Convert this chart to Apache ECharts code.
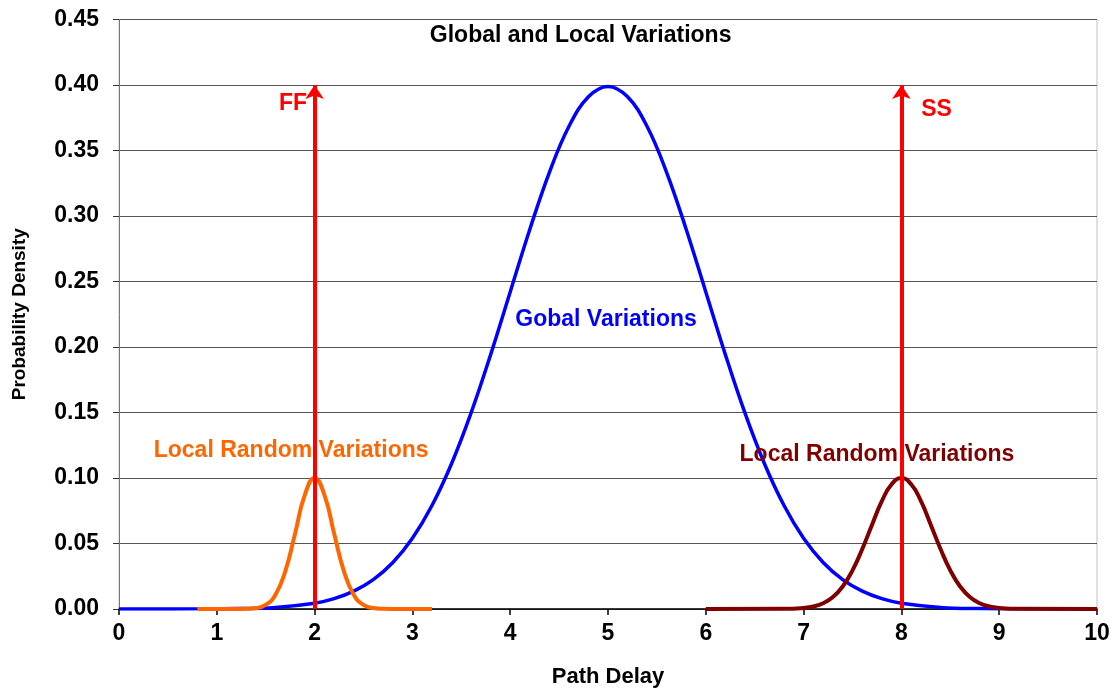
<!DOCTYPE html>
<html>
<head>
<meta charset="utf-8">
<script src="https://cdn.jsdelivr.net/npm/echarts@6/dist/echarts.min.js"></script>
<style>
  html, body { margin: 0; padding: 0; background: #fff; }
  #chart { width: 1120px; height: 692px; }
</style>
</head>
<body>
<div id="chart"></div>
<script>
// values
const blueX = [0, 0.8, 1.2, 1.6, 2, 2.2, 2.4, 2.6, 2.8, 3, 3.2, 3.4, 3.6, 3.8, 4, 4.2, 4.4, 4.6, 4.8, 5,
  5.2, 5.4, 5.6, 5.8, 6, 6.2, 6.4, 6.6, 6.8, 7, 7.2, 7.4, 7.6, 7.8, 8, 8.4, 8.8, 9.2, 10]
const blueY = [0, 0.0001, 0.0003, 0.0012, 0.0044, 0.0079, 0.0136, 0.0224, 0.0355, 0.054, 0.079, 0.1109,
  0.1497, 0.1942, 0.242, 0.2897, 0.3332, 0.3683, 0.391, 0.3989,
  0.391, 0.3683, 0.3332, 0.2897, 0.242, 0.1942, 0.1497, 0.1109, 0.079, 0.054, 0.0355, 0.0224,
  0.0136, 0.0079, 0.0044, 0.0012, 0.0003, 0.0001, 0]

const orangeX = [0.8, 1.2, 1.3, 1.4, 1.5, 1.6, 1.7, 1.8, 1.9, 2, 2.1, 2.2, 2.3, 2.4, 2.5, 2.6, 2.7, 2.8, 3.2]
const orangeY = [0, 0, 0.0001, 0.0007, 0.0031, 0.0109, 0.0288, 0.0575, 0.0871, 0.1, 0.0871, 0.0575,
  0.0288, 0.0109, 0.0031, 0.0007, 0.0001, 0, 0]

const brownX = [6, 6.8, 7, 7.1, 7.2, 7.3, 7.4, 7.5, 7.6, 7.7, 7.8, 7.9, 8, 8.1, 8.2, 8.3, 8.4, 8.5,
  8.6, 8.7, 8.8, 8.9, 9, 9.2, 10]
const brownY = [0, 0.0001, 0.0008, 0.0019, 0.0044, 0.0091, 0.0172, 0.0295, 0.0458, 0.0644, 0.0823,
  0.0952, 0.1, 0.0952, 0.0823, 0.0644, 0.0458, 0.0295, 0.0172, 0.0091, 0.0044, 0.0019, 0.0008, 0.0001, 0]

// FF / SS corners
const arrowX = [2, 8]
const arrowTop = 0.4

const xTicks = [0, 10, 1]
const yTicks = [0, 0.45, 0.05]

const font = 'Liberation Sans, Arial, sans-serif'

function pairs(xs, ys) {
  return xs.map((x, i) => [x, ys[i]])
}

function note(text, x, y, color) {
  return {
    value: [x, y],
    label: { show: true, formatter: text, color: color }
  }
}

const chart = echarts.init(document.getElementById('chart'))

const option = {
  animation: false,
  backgroundColor: '#fff',
  grid: {
    left: 119,
    right: 23,
    top: 19.5,
    bottom: 83,
    containLabel: false,
    outerBoundsMode: 'none',
    show: true,
    borderColor: '#c0c0c0',
    borderWidth: 1
  },
  xAxis: {
    type: 'value',
    min: xTicks[0],
    max: xTicks[1],
    interval: xTicks[2],
    name: 'Path Delay',
    nameLocation: 'middle',
    nameGap: 57,
    nameTextStyle: { fontFamily: font, fontWeight: 'bold', fontSize: 22, color: '#000' },
    splitLine: { show: false },
    axisLine: { lineStyle: { color: '#000', width: 1.5 } },
    axisTick: { inside: false, length: 6, lineStyle: { color: '#000', width: 1.5 } },
    axisLabel: { fontFamily: font, fontWeight: 'bold', fontSize: 23, color: '#000', margin: 13 }
  },
  yAxis: {
    type: 'value',
    min: yTicks[0],
    max: yTicks[1],
    interval: yTicks[2],
    name: 'Probability Density',
    nameLocation: 'middle',
    nameGap: 90,
    nameRotate: 90,
    nameTextStyle: { fontFamily: font, fontWeight: 'bold', fontSize: 19, color: '#000' },
    splitLine: { show: true, lineStyle: { color: '#555', width: 1 } },
    axisLine: { show: true, lineStyle: { color: '#777', width: 1 } },
    axisTick: { show: true, inside: false, length: 6, lineStyle: { color: '#333', width: 1 } },
    axisLabel: {
      fontFamily: font, fontWeight: 'bold', fontSize: 23, color: '#000', margin: 20,
      formatter: v => v.toFixed(2)
    }
  },
  series: [
    {
      name: 'Gobal Variations',
      type: 'line',
      data: pairs(blueX, blueY),
      smooth: 0.4,
      symbol: 'none',
      lineStyle: { color: '#0000ff', width: 3.5 },
      z: 2
    },
    {
      name: 'Local FF',
      type: 'line',
      data: pairs(orangeX, orangeY),
      smooth: 0.5,
      symbol: 'none',
      lineStyle: { color: '#ff6600', width: 4 },
      z: 3
    },
    {
      name: 'Local SS',
      type: 'line',
      data: pairs(brownX, brownY),
      smooth: 0.5,
      symbol: 'none',
      lineStyle: { color: '#800000', width: 4 },
      z: 3
    },
    {
      name: 'corners',
      type: 'lines',
      coordinateSystem: 'cartesian2d',
      symbol: ['none', 'arrow'],
      symbolSize: [12, 14],
      lineStyle: { color: '#ff0000', width: 4, opacity: 1 },
      data: arrowX.map(x => ({ coords: [[x, 0], [x, arrowTop]] })),
      z: 5
    },
    {
      name: 'notes',
      type: 'scatter',
      symbolSize: 0,
      silent: true,
      itemStyle: { opacity: 1 },
      label: {
        show: true,
        position: 'inside',
        opacity: 1,
        fontFamily: font,
        fontWeight: 'bold',
        fontSize: 23
      },
      data: [
        note('Global and Local Variations', 4.72, 0.438, '#000'),
        note('FF', 1.78, 0.386, '#ff0000'),
        note('SS', 8.36, 0.381, '#ff0000'),
        note('Gobal Variations', 4.98, 0.2205, '#0000ff'),
        note('Local Random Variations', 1.76, 0.1205, '#ff6600'),
        note('Local Random Variations', 7.75, 0.118, '#800000')
      ],
      z: 6
    }
  ]
}

chart.setOption(option)
</script>
</body>
</html>
